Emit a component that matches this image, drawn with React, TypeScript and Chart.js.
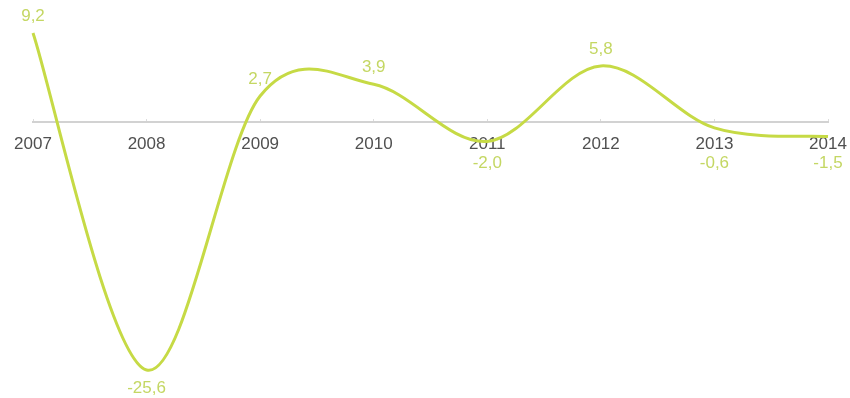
import React, { useEffect, useRef } from "react";
import { Chart, registerables } from "chart.js";

Chart.register(...registerables);

const years: string[] = ["2007", "2008", "2009", "2010", "2011", "2012", "2013", "2014"];
const growth: number[] = [9.2, -25.6, 2.7, 3.9, -2.0, 5.8, -0.6, -1.5];
const growthLabels: string[] = ["9,2", "-25,6", "2,7", "3,9", "-2,0", "5,8", "-0,6", "-1,5"];

const LINE_COLOR = "#c6da45";
const LABEL_COLOR = "#c4d763";
const FONT = "'Liberation Sans', Arial, Helvetica, sans-serif";

// Uniform Catmull-Rom smoothing through the points that Chart.js placed.
const catmullRomPlugin = {
  id: "catmullRom",
  beforeDatasetDraw(chart: any, args: any) {
    const meta = args.meta;
    const line = meta.dataset;
    if (!line) return;
    line.updateControlPoints(chart.chartArea, meta.indexAxis);
    const pts = meta.data;
    const n = pts.length;
    for (let i = 0; i < n; i++) {
      const cur = pts[i];
      const prev = pts[Math.max(0, i - 1)];
      const next = pts[Math.min(n - 1, i + 1)];
      const dx = (next.x - prev.x) / 6;
      const dy = (next.y - prev.y) / 6;
      cur.cp1x = cur.x - dx;
      cur.cp1y = cur.y - dy;
      cur.cp2x = cur.x + dx;
      cur.cp2y = cur.y + dy;
    }
  },
};

const valueLabelPlugin = {
  id: "valueLabels",
  afterDatasetsDraw(chart: any) {
    const ctx = chart.ctx;
    const meta = chart.getDatasetMeta(0);
    const zeroY = chart.scales.y.getPixelForValue(0);
    ctx.save();
    ctx.font = `17px ${FONT}`;
    ctx.fillStyle = LABEL_COLOR;
    ctx.textAlign = "center";
    ctx.textBaseline = "middle";
    meta.data.forEach((pt: any, i: number) => {
      const v = growth[i];
      let y: number;
      if (v >= 0) {
        y = pt.y - 17;
      } else {
        y = Math.max(pt.y + 18, zeroY + 41);
      }
      ctx.fillText(growthLabels[i], pt.x, y);
    });
    ctx.restore();
  },
};

export default function App() {
  const ref = useRef<HTMLCanvasElement | null>(null);

  useEffect(() => {
    document.body.style.margin = "0";
    if (!ref.current) return;
    const chart = new Chart(ref.current, {
      type: "line",
      data: {
        labels: years,
        datasets: [
          {
            data: growth,
            borderColor: LINE_COLOR,
            borderWidth: 3,
            pointRadius: 0,
            tension: 0.4,
            fill: false,
            clip: false as any,
          },
        ],
      },
      options: {
        animation: false,
        responsive: false,
        maintainAspectRatio: false,
        layout: { padding: { left: 33, right: 22, top: 33, bottom: 28 } },
        plugins: {
          legend: { display: false },
          tooltip: { enabled: false },
        },
        scales: {
          x: {
            position: { y: 0 } as any,
            offset: false,
            grid: {
              display: true,
              drawOnChartArea: false,
              drawTicks: true,
              tickLength: -4,
              color: "#dcdcdc",
              lineWidth: 1,
            },
            border: { display: true, color: "#d2d2d2", width: 2 },
            ticks: {
              color: "#505050",
              font: { family: FONT, size: 17 },
              padding: 16,
              maxRotation: 0,
              autoSkip: false,
            },
            afterFit: (scale: any) => {
              scale.height = 0;
              scale.paddingLeft = 0;
              scale.paddingRight = 0;
            },
          },
          y: {
            display: false,
            min: Math.min(...growth),
            max: Math.max(...growth),
          },
        },
      },
      plugins: [catmullRomPlugin, valueLabelPlugin],
    });
    return () => chart.destroy();
  }, []);

  return (
    <div style={{ position: "absolute", left: 0, top: 0, width: 850, height: 398, background: "#fff" }}>
      <canvas ref={ref} width={850} height={398} />
    </div>
  );
}
